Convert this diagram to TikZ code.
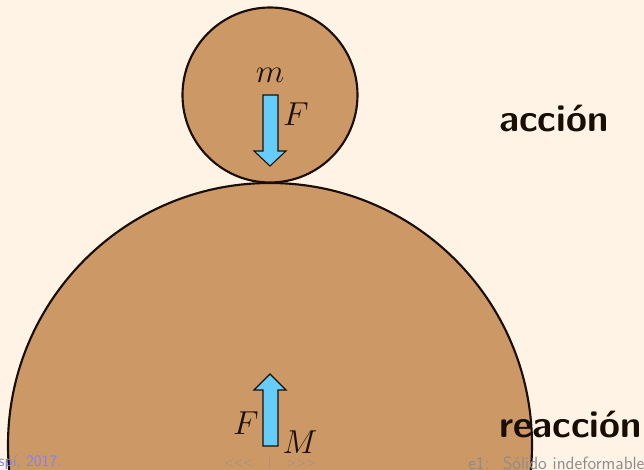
\documentclass[tikz,border=0pt]{standalone}
\usepackage{tikz}
\usetikzlibrary{arrows.meta}
\definecolor{slidebg}{RGB}{255,243,230}
\definecolor{massfill}{RGB}{204,153,102}
\definecolor{massline}{RGB}{26,14,4}
\definecolor{forcefill}{RGB}{102,204,250}
\definecolor{footgray}{RGB}{140,140,140}
\definecolor{footblue}{RGB}{128,128,245}
\tikzset{
  body/.style={fill=massfill,draw=massline,line width=1.6pt},
  force/.style={fill=forcefill,draw=massline,line width=0.8pt,line join=miter},
  mathlbl/.style={font=\fontsize{24}{26}\selectfont,text=massline,inner sep=0pt},
  wordlbl/.style={font=\sffamily\bfseries\fontsize{28.5}{31}\selectfont,text=massline,anchor=west,inner sep=0pt},
  footlbl/.style={font=\sffamily\fontsize{13.3}{15}\selectfont,inner sep=0pt}
}
\begin{document}
\begin{tikzpicture}[x=0.75pt,y=-0.75pt]
  \useasboundingbox (0,0) rectangle (644,470);
  \fill[slidebg] (0,0) rectangle (644,470);
  % the two bodies
  \draw[body] (270,445) circle (262);
  \draw[body] (270,95) circle (87.5);
  % action on the small body
  \draw[force] (263,95) -- (278,95) -- (278,151) -- (286,151) -- (270,166)
    -- (254,151) -- (263,151) -- cycle;
  \node[mathlbl] (m) at (270,75) {$m$};
  \node[mathlbl] (Fact) at (296,114) {$F$};
  % reaction on the big body
  \draw[force] (263,446) -- (278,446) -- (278,390) -- (286,390) -- (270,374)
    -- (254,390) -- (263,390) -- cycle;
  \node[mathlbl] (Freac) at (246,423) {$F$};
  \node[mathlbl] (M) at (300,442) {$M$};
  % words on the right
  \node[wordlbl] (accion) at (499,119) {acción};
  \node[wordlbl] (reaccion) at (499,425) {reacción};
  % footline
  \node[footlbl,text=footblue,anchor=east,font=\sffamily\fontsize{12}{13}\selectfont] (date) at (62,463) {spí, 2017.};
  \node[footlbl,text=footgray,font=\sffamily\fontsize{9.5}{11}\selectfont] (nav) at (270,463) {{<}{<}{<}\hspace{11pt}|\hspace{11pt}{>}{>}{>}};
  \node[footlbl,text=footgray,anchor=west] (title) at (468,463) {e1:\hspace{10pt}Sólido indeformable};
\end{tikzpicture}
\end{document}
